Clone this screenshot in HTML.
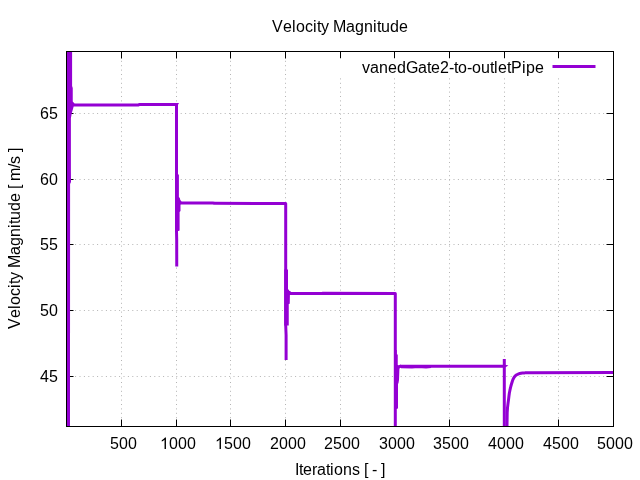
<!DOCTYPE html>
<html><head><meta charset="utf-8"><style>
html,body{margin:0;padding:0;background:#fff;width:640px;height:480px;overflow:hidden}
svg{display:block;will-change:transform}
text{font-family:"Liberation Sans",sans-serif}
</style></head><body>
<svg width="640" height="480" viewBox="0 0 640 480">
<defs><clipPath id="clip"><rect x="66.5" y="51.5" width="547.0" height="375.0"/></clipPath></defs>
<rect width="640" height="480" fill="#fff"/>
<g stroke="#b4b4b4" stroke-width="1" stroke-dasharray="1 3.4" stroke-dashoffset="0.5"><line x1="121.5" y1="426.5" x2="121.5" y2="51.5"/><line x1="176.5" y1="426.5" x2="176.5" y2="51.5"/><line x1="230.5" y1="426.5" x2="230.5" y2="51.5"/><line x1="285.5" y1="426.5" x2="285.5" y2="51.5"/><line x1="340.5" y1="426.5" x2="340.5" y2="51.5"/><line x1="394.5" y1="426.5" x2="394.5" y2="51.5"/><line x1="449.5" y1="426.5" x2="449.5" y2="51.5"/><line x1="504.5" y1="426.5" x2="504.5" y2="51.5"/><line x1="558.5" y1="426.5" x2="558.5" y2="51.5"/></g><g stroke="#b4b4b4" stroke-width="1" stroke-dasharray="1 3.4" stroke-dashoffset="0.2"><line x1="66.5" y1="113.5" x2="613.5" y2="113.5"/><line x1="66.5" y1="179.5" x2="613.5" y2="179.5"/><line x1="66.5" y1="244.5" x2="613.5" y2="244.5"/><line x1="66.5" y1="310.5" x2="613.5" y2="310.5"/><line x1="66.5" y1="376.5" x2="613.5" y2="376.5"/></g><g stroke="#000" stroke-width="1"><line x1="121.5" y1="426.5" x2="121.5" y2="419.5"/><line x1="121.5" y1="51.5" x2="121.5" y2="58.5"/><line x1="176.5" y1="426.5" x2="176.5" y2="419.5"/><line x1="176.5" y1="51.5" x2="176.5" y2="58.5"/><line x1="230.5" y1="426.5" x2="230.5" y2="419.5"/><line x1="230.5" y1="51.5" x2="230.5" y2="58.5"/><line x1="285.5" y1="426.5" x2="285.5" y2="419.5"/><line x1="285.5" y1="51.5" x2="285.5" y2="58.5"/><line x1="340.5" y1="426.5" x2="340.5" y2="419.5"/><line x1="340.5" y1="51.5" x2="340.5" y2="58.5"/><line x1="394.5" y1="426.5" x2="394.5" y2="419.5"/><line x1="394.5" y1="51.5" x2="394.5" y2="58.5"/><line x1="449.5" y1="426.5" x2="449.5" y2="419.5"/><line x1="449.5" y1="51.5" x2="449.5" y2="58.5"/><line x1="504.5" y1="426.5" x2="504.5" y2="419.5"/><line x1="504.5" y1="51.5" x2="504.5" y2="58.5"/><line x1="558.5" y1="426.5" x2="558.5" y2="419.5"/><line x1="558.5" y1="51.5" x2="558.5" y2="58.5"/><line x1="613.5" y1="426.5" x2="613.5" y2="419.5"/><line x1="613.5" y1="51.5" x2="613.5" y2="58.5"/><line x1="66.5" y1="113.5" x2="73.5" y2="113.5"/><line x1="613.5" y1="113.5" x2="606.5" y2="113.5"/><line x1="66.5" y1="179.5" x2="73.5" y2="179.5"/><line x1="613.5" y1="179.5" x2="606.5" y2="179.5"/><line x1="66.5" y1="244.5" x2="73.5" y2="244.5"/><line x1="613.5" y1="244.5" x2="606.5" y2="244.5"/><line x1="66.5" y1="310.5" x2="73.5" y2="310.5"/><line x1="613.5" y1="310.5" x2="606.5" y2="310.5"/><line x1="66.5" y1="376.5" x2="73.5" y2="376.5"/><line x1="613.5" y1="376.5" x2="606.5" y2="376.5"/></g><g clip-path="url(#clip)" stroke-linejoin="round"><polygon points="67,51 72.1,51 72.1,86 72.75,88 72.75,101.5 74.5,103.5 73.6,106.5 73.4,107.5 72.4,111 71.9,112.5 71.3,116 70.9,118 70.9,170 71,182 70.1,184 70,426 67,426" fill="#9400d3"/><polyline points="72,105.0 138.6,104.9 139.6,104.45 176.5,104.45 176.5,231 176.7,240 176.75,266.5" fill="none" stroke="#9400d3" stroke-width="3" stroke-linejoin="round"/><polygon points="176.5,103.1 179,103.1 178.3,104.3 177.6,105.5 176.5,105.5" fill="#9400d3"/><polygon points="175,174.4 178.9,174.4 178.9,197 179.8,198 180.3,200 181.5,201.5 180.5,205 180.5,211 179.6,212 179.6,230.6 178.5,231 175,231" fill="#9400d3"/><polyline points="176.5,202.95 213,202.95 214,203.3 285.7,203.55 285.7,325 286.1,335 286.1,360" fill="none" stroke="#9400d3" stroke-width="3"/><polygon points="284.2,269.4 288.0,269.4 288.0,289 288.8,290 289.5,291 290.8,291.3 289.9,295 289.75,303.75 288.75,304 288.75,325.5 284.2,325.5" fill="#9400d3"/><polyline points="285.7,293.4 321.9,293.55 322.5,293.25 395.3,293.5 395.3,427" fill="none" stroke="#9400d3" stroke-width="3"/><polygon points="394,350 396.75,350 396.75,354.4 397.75,354.4 397.75,365 398.8,365.3 400,364.75 401,364.75 401,367.7 400,367.8 399.4,369 399.3,372 399.0,380 398.5,383 398.0,384 398.0,408 397.2,409 394,409" fill="#9400d3"/><polyline points="400,366.25 504.3,366.3" fill="none" stroke="#9400d3" stroke-width="3"/><polyline points="401,366.8 412,366.9 418,366.6 426,366.9 431,366.5" fill="none" stroke="#9400d3" stroke-width="3"/><polyline points="504.3,359 504.3,427" fill="none" stroke="#9400d3" stroke-width="3"/><polygon points="504.3,364.6 508.4,365.4 505,367.5" fill="#9400d3"/><polyline points="506.90,432.75 507.01,425.14 507.11,418.49 507.20,412.68 507.52,407.62 508.06,403.19 508.57,399.33 508.96,395.96 509.37,393.01 509.88,390.44 510.38,388.20 510.85,386.24 511.33,384.52 511.80,383.03 512.20,381.73 512.58,380.59 512.96,379.59 513.34,378.72 513.74,377.97 514.15,377.30 514.55,376.73 514.96,376.22 515.38,375.78 515.84,375.40 516.31,375.06 516.77,374.77 517.23,374.51 517.69,374.29 518.16,374.09 518.57,373.92 518.94,373.77 519.31,373.64 519.67,373.53 520.04,373.43 520.41,373.34 520.77,373.27 521.14,373.20 521.51,373.15 521.87,373.10 522.24,373.05 522.61,373.01 522.99,372.98 523.38,372.95 523.77,372.93 524.16,372.90 524.55,372.88 524.94,372.87 525.33,372.85 525.72,372.84 526.10,372.83 526.49,372.82 526.88,372.81 527.27,372.80 527.66,372.80 528.05,372.79 528.44,372.78 528.83,372.78 529.22,372.78 529.61,372.77 530.00,372.77 613.50,372.50" fill="none" stroke="#9400d3" stroke-width="3" stroke-linejoin="round"/></g><rect x="300" y="58.5" width="306.5" height="18.5" fill="#fff"/><rect x="66.5" y="51.5" width="547.0" height="375.0" fill="none" stroke="#000" stroke-width="1"/><line x1="552.5" y1="66.4" x2="595.5" y2="66.4" stroke="#9400d3" stroke-width="3"/><g font-family="Liberation Sans, sans-serif" font-size="16" fill="#000"><text x="110 119 128" y="449">500</text><path transform="translate(160,449) scale(0.0078125,-0.0078125)" d="M763 0L583 0L583 1170Q518 1108 412 1048Q312 993 223 960L223 1134Q374 1205 487 1300Q600 1395 646 1466L763 1466Z"/><text x="169 178 187" y="449">000</text><path transform="translate(215,449) scale(0.0078125,-0.0078125)" d="M763 0L583 0L583 1170Q518 1108 412 1048Q312 993 223 960L223 1134Q374 1205 487 1300Q600 1395 646 1466L763 1466Z"/><text x="224 233 242" y="449">500</text><text x="270 279 288 297" y="449">2000</text><text x="324 333 342 351" y="449">2500</text><text x="379 388 397 406" y="449">3000</text><text x="433 442 451 460" y="449">3500</text><text x="488 497 506 515" y="449">4000</text><text x="543 552 561 570" y="449">4500</text><text x="597 606 615 624" y="449">5000</text><text x="40 49" y="119.0">65</text><text x="40 49" y="185.0">60</text><text x="40 49" y="250.0">55</text><text x="40 49" y="316.0">50</text><text x="40 49" y="382.0">45</text><text x="272 283 292 296 305 313 317 321 329 333 346 355 364 373 377 381 390 399" y="32">Velocity&#160;Magnitude</text><text x="295 299 303 312 317 326 330 334 343 352 360 364 368 372 377 381" y="474.5">Iterations&#160;[&#160;-&#160;]</text><text x="362 370 379 388 397 406 418 427 431 440 449 454 458 467 472 481 490 494 498 507 511 522 526 535" y="73">vanedGate2-to-outletPipe</text><g transform="translate(20,329) rotate(-90)"><text x="0 11 20 24 33 41 45 49 57 61 74 83 92 101 105 109 118 127 136 140 144 148 161 165 173 177" y="0">Velocity&#160;Magnitude&#160;[&#160;m/s&#160;]</text></g></g>
</svg>
</body></html>
